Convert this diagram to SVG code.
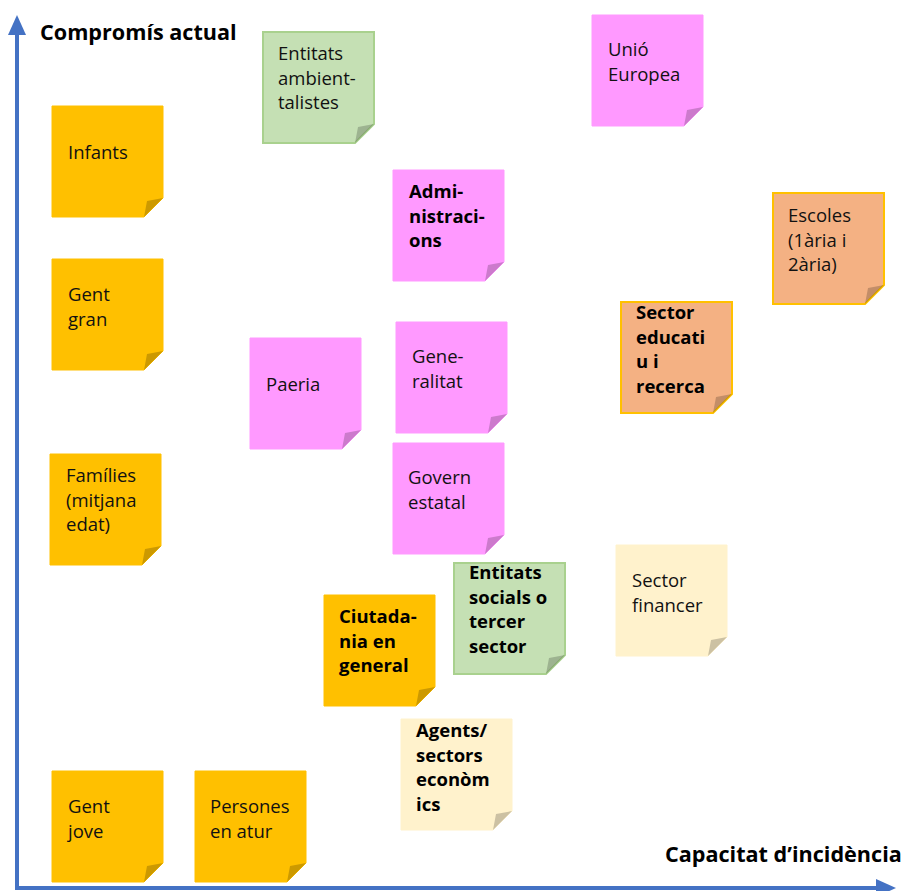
<svg xmlns="http://www.w3.org/2000/svg" xmlns:xlink="http://www.w3.org/1999/xlink" width="904" height="891" viewBox="0 0 904 891">
<defs>
<style>
.t{font-family:"Open Sans","Noto Sans","DejaVu Sans",sans-serif;font-size:18.5px;fill:#111}
.b{font-weight:bold;fill:#000}
.ax{font-family:"Open Sans","Noto Sans","DejaVu Sans",sans-serif;font-size:21.6px;font-weight:bold;fill:#000}
.orange{fill:#FFC000;stroke:#FFC000;stroke-width:1}
.pink{fill:#FF99FF;stroke:#FF99FF;stroke-width:1}
.green{fill:#C5E0B4;stroke:#A9D18E;stroke-width:2}
.salmon{fill:#F4B183;stroke:#FFC000;stroke-width:2}
.cream{fill:#FFF2CC;stroke:#FFF2CC;stroke-width:1}
.fold{fill:#000;fill-opacity:0.2}
.axis{stroke:#4472C4;stroke-width:4;fill:none}
</style>
<path id="note" d="M0,0 H111 V92 L92,111 H0 Z"/>
<path id="fold" d="M111,92 L92,111 L95,95 Z"/>
<marker id="arr" markerUnits="userSpaceOnUse" markerWidth="20" markerHeight="20" viewBox="0 0 20 20" refX="2" refY="10" orient="auto">
<path d="M0,1 L20,10 L0,19 Z" fill="#4472C4"/>
</marker>
</defs>
<rect width="904" height="891" fill="#fff"/>
<g id="connectors">
<line class="axis" x1="17" y1="888" x2="17" y2="33" marker-end="url(#arr)"/>
<line class="axis" x1="15" y1="888" x2="878" y2="888" marker-end="url(#arr)"/>
</g>
<g id="axis-labels">
<text class="ax" x="40" y="40">Compromís actual</text>
<text class="ax" x="665" y="862">Capacitat d’incidència</text>
</g>
<g id="n-entitats-ambientalistes">
<use xlink:href="#note" x="263" y="32" class="green"/><use xlink:href="#fold" x="263" y="32" class="fold"/>
<text class="t" x="278" y="60">Entitats<tspan x="278" dy="24.5">ambient-</tspan><tspan x="278" dy="24.5">talistes</tspan></text>
</g>
<g id="n-infants">
<use xlink:href="#note" x="52" y="106" class="orange"/><use xlink:href="#fold" x="52" y="106" class="fold"/>
<text class="t" x="68" y="159">Infants</text>
</g>
<g id="n-unio-europea">
<use xlink:href="#note" x="592" y="15" class="pink"/><use xlink:href="#fold" x="592" y="15" class="fold"/>
<text class="t" x="608" y="56">Unió<tspan x="608" dy="24.5">Europea</tspan></text>
</g>
<g id="n-administracions">
<use xlink:href="#note" x="393" y="170" class="pink"/><use xlink:href="#fold" x="393" y="170" class="fold"/>
<text class="t b" x="409" y="198">Admi-<tspan x="409" dy="24.5">nistraci-</tspan><tspan x="409" dy="24.5">ons</tspan></text>
</g>
<g id="n-escoles">
<use xlink:href="#note" x="773" y="193" class="salmon"/><use xlink:href="#fold" x="773" y="193" class="fold"/>
<text class="t" x="788" y="222">Escoles<tspan x="788" dy="24.5">(1ària i</tspan><tspan x="788" dy="24.5">2ària)</tspan></text>
</g>
<g id="n-gent-gran">
<use xlink:href="#note" x="52" y="259" class="orange"/><use xlink:href="#fold" x="52" y="259" class="fold"/>
<text class="t" x="68" y="301">Gent<tspan x="68" dy="24.5">gran</tspan></text>
</g>
<g id="n-sector-educatiu">
<use xlink:href="#note" x="621" y="302" class="salmon"/><use xlink:href="#fold" x="621" y="302" class="fold"/>
<text class="t b" x="636" y="319">Sector<tspan x="636" dy="24.5">educati</tspan><tspan x="636" dy="24.5">u i</tspan><tspan x="636" dy="24.5">recerca</tspan></text>
</g>
<g id="n-generalitat">
<use xlink:href="#note" x="396" y="322" class="pink"/><use xlink:href="#fold" x="396" y="322" class="fold"/>
<text class="t" x="412" y="363">Gene-<tspan x="412" dy="24.5">ralitat</tspan></text>
</g>
<g id="n-paeria">
<use xlink:href="#note" x="250" y="338" class="pink"/><use xlink:href="#fold" x="250" y="338" class="fold"/>
<text class="t" x="266" y="391">Paeria</text>
</g>
<g id="n-families">
<use xlink:href="#note" x="50" y="454" class="orange"/><use xlink:href="#fold" x="50" y="454" class="fold"/>
<text class="t" x="66" y="482">Famílies<tspan x="66" dy="24.5">(mitjana</tspan><tspan x="66" dy="24.5">edat)</tspan></text>
</g>
<g id="n-govern-estatal">
<use xlink:href="#note" x="393" y="443" class="pink"/><use xlink:href="#fold" x="393" y="443" class="fold"/>
<text class="t" x="408" y="484">Govern<tspan x="408" dy="24.5">estatal</tspan></text>
</g>
<g id="n-entitats-socials">
<use xlink:href="#note" x="454" y="563" class="green"/><use xlink:href="#fold" x="454" y="563" class="fold"/>
<text class="t b" x="469" y="579">Entitats<tspan x="469" dy="24.5">socials o</tspan><tspan x="469" dy="24.5">tercer</tspan><tspan x="469" dy="24.5">sector</tspan></text>
</g>
<g id="n-sector-financer">
<use xlink:href="#note" x="616" y="545" class="cream"/><use xlink:href="#fold" x="616" y="545" class="fold"/>
<text class="t" x="632" y="587">Sector<tspan x="632" dy="24.5">financer</tspan></text>
</g>
<g id="n-ciutadania">
<use xlink:href="#note" x="324" y="595" class="orange"/><use xlink:href="#fold" x="324" y="595" class="fold"/>
<text class="t b" x="339" y="623">Ciutada-<tspan x="339" dy="24.5">nia en</tspan><tspan x="339" dy="24.5">general</tspan></text>
</g>
<g id="n-agents">
<use xlink:href="#note" x="401" y="719" class="cream"/><use xlink:href="#fold" x="401" y="719" class="fold"/>
<text class="t b" x="416" y="737">Agents/<tspan x="416" dy="24.5">sectors</tspan><tspan x="416" dy="24.5">econòm</tspan><tspan x="416" dy="24.5">ics</tspan></text>
</g>
<g id="n-gent-jove">
<use xlink:href="#note" x="52" y="771" class="orange"/><use xlink:href="#fold" x="52" y="771" class="fold"/>
<text class="t" x="68" y="813">Gent<tspan x="68" dy="24.5">jove</tspan></text>
</g>
<g id="n-persones-atur">
<use xlink:href="#note" x="195" y="771" class="orange"/><use xlink:href="#fold" x="195" y="771" class="fold"/>
<text class="t" x="210" y="813">Persones<tspan x="210" dy="24.5">en atur</tspan></text>
</g>
</svg>
